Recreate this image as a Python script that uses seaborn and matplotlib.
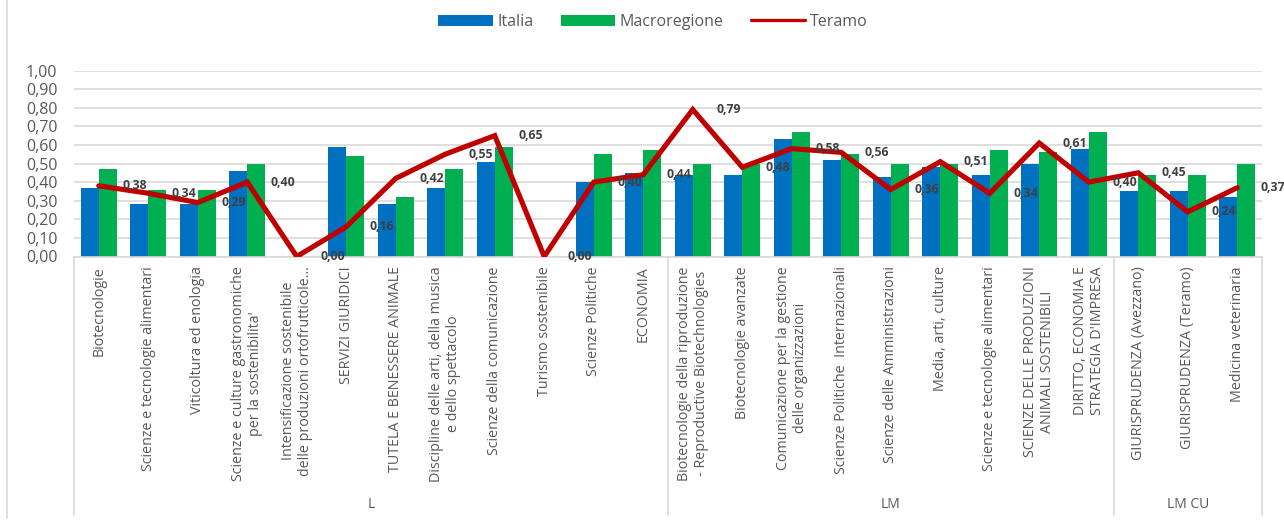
import numpy as np
import pandas as pd
import matplotlib
matplotlib.use("Agg")
import matplotlib.pyplot as plt
import matplotlib.transforms as mtransforms
from matplotlib.patches import Patch
from matplotlib.lines import Line2D
from matplotlib.ticker import FuncFormatter, MultipleLocator
import seaborn as sns

# ---------------- data ----------------
categories = [
    "Biotecnologie",
    "Scienze e tecnologie alimentari",
    "Viticoltura ed enologia",
    "Scienze e culture gastronomiche\nper la sostenibilita'",
    "Intensificazione sostenibile\ndelle produzioni ortofrutticole…",
    "SERVIZI GIURIDICI",
    "TUTELA E BENESSERE ANIMALE",
    "Discipline delle arti, della musica\ne dello spettacolo",
    "Scienze della comunicazione",
    "Turismo sostenibile",
    "Scienze Politiche",
    "ECONOMIA",
    "Biotecnologie della riproduzione\n- Reproductive Biotechnologies",
    "Biotecnologie avanzate",
    "Comunicazione per la gestione\ndelle organizzazioni",
    "Scienze Politiche  Internazionali",
    "Scienze delle Amministrazioni",
    "Media, arti, culture",
    "Scienze e tecnologie alimentari",
    "SCIENZE DELLE PRODUZIONI\nANIMALI SOSTENIBILI",
    "DIRITTO, ECONOMIA E\nSTRATEGIA D'IMPRESA",
    "GIURISPRUDENZA (Avezzano)",
    "GIURISPRUDENZA (Teramo)",
    "Medicina veterinaria",
]
groups = ["L"] * 12 + ["LM"] * 9 + ["LM CU"] * 3

italia = [0.37, 0.28, 0.28, 0.46, np.nan, 0.59, 0.28, 0.37, 0.51, np.nan, 0.40, 0.45,
          0.44, 0.44, 0.63, 0.52, 0.43, 0.48, 0.44, 0.50, 0.58, 0.35, 0.35, 0.32]
macroregione = [0.47, 0.36, 0.36, 0.50, np.nan, 0.54, 0.32, 0.47, 0.59, np.nan, 0.55, 0.57,
                0.50, 0.50, 0.67, 0.55, 0.50, 0.50, 0.57, 0.56, 0.67, 0.44, 0.44, 0.50]
teramo = [0.38, 0.34, 0.29, 0.40, 0.00, 0.16, 0.42, 0.55, 0.65, 0.00, 0.40, 0.44,
          0.79, 0.48, 0.58, 0.56, 0.36, 0.51, 0.34, 0.61, 0.40, 0.45, 0.24, 0.37]

series_names = ["Italia", "Macroregione", "Teramo"]
colors = {"Italia": "#0070C0", "Macroregione": "#00B050", "Teramo": "#C00000"}

# ---------------- figure ----------------
W, H = 1284, 521
sns.set_theme(style="white")
plt.rcParams["font.family"] = ["Open Sans", "DejaVu Sans"]

fig = plt.figure(figsize=(W / 100, H / 100), dpi=100)
ax_left, ax_right, ax_top, ax_bottom = 74, 1262, 70.5, 256.5
ax = fig.add_axes([ax_left / W, 1 - ax_bottom / H,
                   (ax_right - ax_left) / W, (ax_bottom - ax_top) / H])

idx = list(range(len(categories)))
bars_df = pd.DataFrame({
    "idx": idx * 2,
    "value": italia + macroregione,
    "series": ["Italia"] * len(idx) + ["Macroregione"] * len(idx),
})
sns.barplot(data=bars_df, x="idx", y="value", hue="series",
            palette=[colors["Italia"], colors["Macroregione"]],
            width=0.73, gap=0.0, linewidth=0, saturation=1,
            legend=False, ax=ax, zorder=2)

line_df = pd.DataFrame({"idx": idx, "value": teramo})
sns.lineplot(data=line_df, x="idx", y="value", color=colors["Teramo"],
             linewidth=3.7, sort=False, ax=ax, zorder=3,
             solid_joinstyle="miter")

# data labels for Teramo
for i, v in zip(idx, teramo):
    ax.annotate(f"{v:.2f}".replace(".", ","), (i, v), xytext=(17, 0),
                textcoords="offset points", ha="left", va="center",
                fontsize=8.8, fontweight="bold", color="#404040",
                zorder=4, annotation_clip=False)

# axes styling
ax.set_xlim(-0.5, len(categories) - 0.5)
ax.set_ylim(0, 1.0)
ax.yaxis.set_major_locator(MultipleLocator(0.1))
ax.yaxis.set_major_formatter(FuncFormatter(lambda v, p: f"{v:.2f}".replace(".", ",")))
ax.set_xlabel("")
ax.set_ylabel("")
for s in ["top", "right", "left"]:
    ax.spines[s].set_visible(False)
ax.spines["bottom"].set_color("#D9D9D9")
ax.spines["bottom"].set_linewidth(1.2)
ax.yaxis.grid(True, color="#D9D9D9", linewidth=1.2)
ax.xaxis.grid(False)
ax.set_axisbelow(True)
ax.tick_params(axis="y", length=0, pad=12, labelsize=11.5, labelcolor="#595959")
ax.tick_params(axis="x", length=0, pad=7)
ax.set_xticks(idx)
ax.set_xticklabels(categories, rotation=90, ha="center", va="top",
                   fontsize=10.3, color="#595959", multialignment="center",
                   linespacing=1.15)

# multi-level category axis: separators and group labels
blend = mtransforms.blended_transform_factory(ax.transData, fig.transFigure)
y_top_sep = 1 - ax_bottom / H
y_bot_sep = 1 - 515 / H
bounds = [-0.5]
for k in range(1, len(groups)):
    if groups[k] != groups[k - 1]:
        bounds.append(k - 0.5)
bounds.append(len(groups) - 0.5)
for b in bounds:
    ax.add_line(Line2D([b, b], [y_top_sep, y_bot_sep], transform=blend,
                       color="#D9D9D9", linewidth=1.2, clip_on=False))
for a, b in zip(bounds[:-1], bounds[1:]):
    name = groups[int(a + 0.5)]
    ax.text((a + b) / 2, 1 - 504 / H, name, transform=blend, ha="center",
            va="center", fontsize=10, color="#595959")

# outer chart border (left edge)
fig.add_artist(Line2D([7 / W, 7 / W], [1, 1 - 518 / H], transform=fig.transFigure,
                      color="#D9D9D9", linewidth=1.2))

# legend
handles = [
    Patch(facecolor=colors["Italia"], edgecolor="none", label="Italia"),
    Patch(facecolor=colors["Macroregione"], edgecolor="none", label="Macroregione"),
    Line2D([0], [0], color=colors["Teramo"], linewidth=2.4, label="Teramo"),
]
fig.legend(handles=handles, loc="center", bbox_to_anchor=(653 / W, 1 - 22 / H),
           ncol=3, frameon=False, fontsize=11.5, handlelength=3.4,
           handleheight=0.75, handletextpad=0.3, columnspacing=1.7,
           labelcolor="#595959")

fig.savefig("out.png", dpi=100)
